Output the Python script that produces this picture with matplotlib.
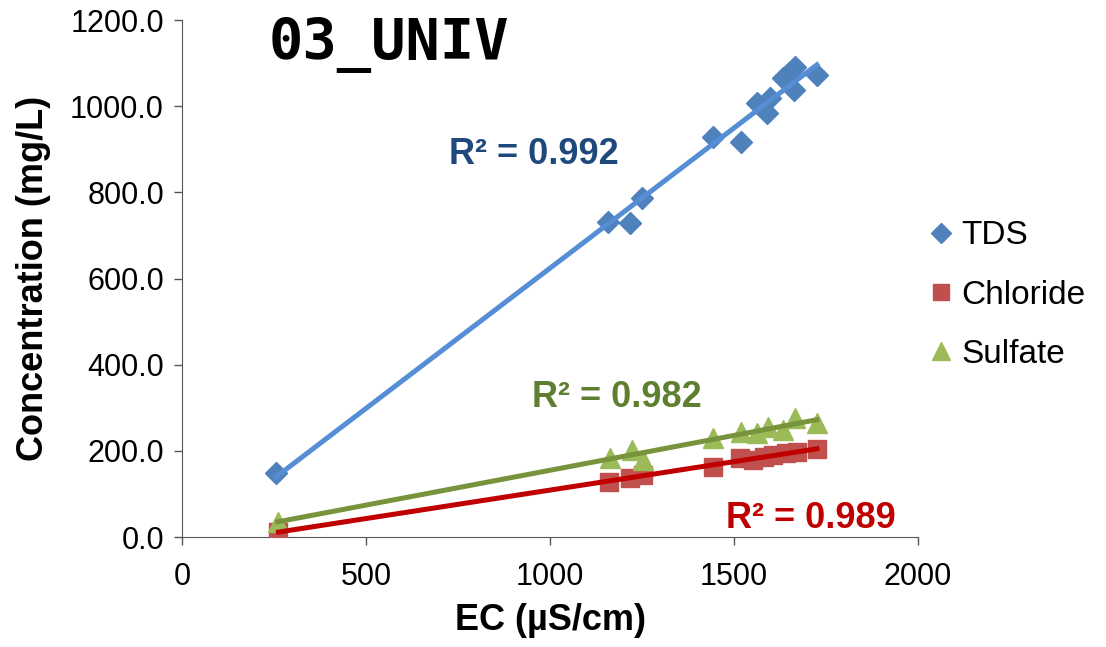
import numpy as np
import matplotlib
matplotlib.use("Agg")
import matplotlib.pyplot as plt
from matplotlib.ticker import FormatStrFormatter

plt.rcParams['font.family'] = ['Liberation Sans', 'DejaVu Sans']

# data (EC in uS/cm, concentration in mg/L)
tds_ec = [255, 1158, 1217, 1251, 1444, 1518, 1561, 1590, 1598, 1634, 1650, 1664, 1666, 1725]
tds_conc = [149, 732, 728, 788, 929, 918, 1007, 984, 1020, 1065, 1078, 1038, 1092, 1072]

cl_ec = [262, 1160, 1217, 1253, 1443, 1516, 1552, 1580, 1606, 1640, 1671, 1725]
cl_conc = [12, 128, 137, 145, 162, 183, 179, 185, 190, 195, 197, 205]

so4_ec = [260, 1163, 1222, 1253, 1443, 1520, 1561, 1593, 1634, 1666, 1725]
so4_conc = [35, 183, 202, 179, 230, 244, 241, 256, 248, 276, 264]

r2_labels = ["R² = 0.992", "R² = 0.989", "R² = 0.982"]

fig = plt.figure(figsize=(11.06, 6.47), dpi=100)
ax = fig.add_axes([0.1646, 0.170, 0.6655, 0.799])

series = [
    (tds_ec, tds_conc, 'TDS', 'D', '#4F81BD', '#558ED5', 11),
    (cl_ec, cl_conc, 'Chloride', 's', '#C0504D', '#C00000', 13),
    (so4_ec, so4_conc, 'Sulfate', '^', '#9BBB59', '#77933C', 14),
]

for x, y, name, mk, mc, lc, ms in series:
    ax.plot(x, y, linestyle='none', marker=mk, color=mc, markersize=ms, label=name, zorder=3)

# linear trendlines drawn on top of the markers
for x, y, name, mk, mc, lc, ms in series:
    k, b = np.polyfit(x, y, 1)
    xs = np.array([min(x), max(x)])
    ax.plot(xs, k * xs + b, color=lc, linewidth=3.6, zorder=4)

ax.text(955, 888, r2_labels[0], color='#1F497D', fontsize=26, fontweight='bold', ha='center', va='center')
ax.text(1709, 42, r2_labels[1], color='#C00000', fontsize=26, fontweight='bold', ha='center', va='center')
ax.text(1182, 323, r2_labels[2], color='#5F7F30', fontsize=26, fontweight='bold', ha='center', va='center')

ax.text(234, 1143, "03_UNIV", fontsize=41, fontweight='bold', family='DejaVu Sans Mono', va='center')

ax.set_xlim(0, 2000)
ax.set_ylim(0, 1200)
ax.set_xticks([0, 500, 1000, 1500, 2000])
ax.set_yticks(np.arange(0, 1201, 200))
ax.yaxis.set_major_formatter(FormatStrFormatter('%.1f'))
ax.tick_params(labelsize=22, direction='out', length=6, width=1, color='#555555')
ax.tick_params(axis='y', pad=7)
ax.tick_params(axis='x', pad=12)
ax.spines['top'].set_visible(False)
ax.spines['right'].set_visible(False)
ax.spines['left'].set_color('#555555')
ax.spines['bottom'].set_color('#555555')

ax.set_xlabel("EC (µS/cm)", fontsize=26, fontweight='bold', labelpad=8)
ax.set_ylabel("Concentration (mg/L)", fontsize=26, fontweight='bold', labelpad=14)

ax.legend(loc='center left', bbox_to_anchor=(0.975, 0.468), frameon=False, fontsize=24,
          handletextpad=0.05, labelspacing=0.85, markerscale=0.9, handlelength=1.1,
          borderaxespad=0.3)

fig.savefig("out.png", dpi=100)
